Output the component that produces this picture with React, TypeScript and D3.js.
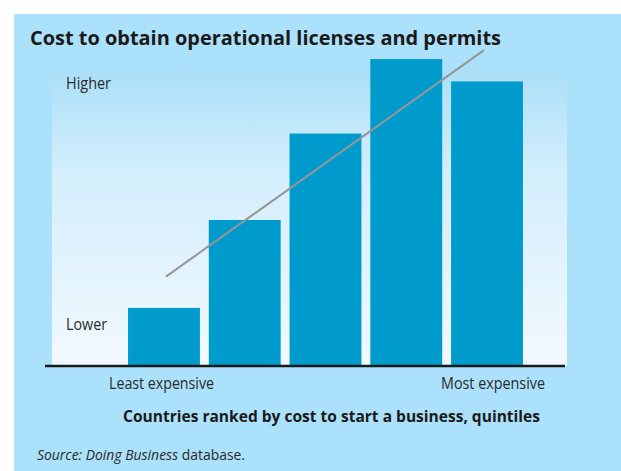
import { useEffect, useRef } from "react";
import * as d3 from "d3";

const quintiles = ["Q1", "Q2", "Q3", "Q4", "Q5"];
const costValues = [19.5, 49, 78, 103, 95.5];
const trendValues = [30, 106];
const yLabels = ["Lower", "Higher"];
const xLabels = ["Least expensive", "Most expensive"];

const W = 621;
const H = 471;

const App: React.FC = () => {
  const svgRef = useRef<SVGSVGElement | null>(null);

  useEffect(() => {
    if (!svgRef.current) return;
    const svg = d3.select(svgRef.current);
    svg.selectAll("*").remove();

    const plot = { left: 52, right: 567, top: 68, bottom: 366 };
    const font = "'Open Sans', 'Noto Sans', sans-serif";

    // outer panel
    svg
      .append("rect")
      .attr("x", 14)
      .attr("y", 14)
      .attr("width", W - 14)
      .attr("height", H - 14)
      .attr("fill", "#abe1fa");

    const defs = svg.append("defs");
    const grad = defs
      .append("linearGradient")
      .attr("id", "bg")
      .attr("x1", 0)
      .attr("y1", 0)
      .attr("x2", 0)
      .attr("y2", 1);
    grad.append("stop").attr("offset", "0%").attr("stop-color", "#aadff8");
    grad.append("stop").attr("offset", "35%").attr("stop-color", "#d3eefc");
    grad.append("stop").attr("offset", "100%").attr("stop-color", "#f2f9fe");

    svg
      .append("rect")
      .attr("x", plot.left)
      .attr("y", plot.top)
      .attr("width", plot.right - plot.left)
      .attr("height", plot.bottom - plot.top)
      .attr("fill", "url(#bg)");

    const x = d3
      .scaleBand()
      .domain(quintiles)
      .range([124, 527])
      .paddingInner(0.11)
      .paddingOuter(0.05);

    const y = d3
      .scaleLinear()
      .domain([0, 100])
      .range([plot.bottom, plot.top]);

    svg
      .selectAll("rect.bar")
      .data(quintiles)
      .enter()
      .append("rect")
      .attr("class", "bar")
      .attr("x", (d) => x(d) || 0)
      .attr("y", (_, i) => y(costValues[i]))
      .attr("width", x.bandwidth())
      .attr("height", (_, i) => plot.bottom - y(costValues[i]))
      .attr("fill", "#009bcd");

    // trend line from first to last quintile
    const first = quintiles[0];
    const last = quintiles[quintiles.length - 1];
    svg
      .append("line")
      .attr("x1", (x(first) || 0) + x.bandwidth() / 2 + 2)
      .attr("y1", y(trendValues[0]))
      .attr("x2", (x(last) || 0) + x.bandwidth() / 2 - 3)
      .attr("y2", y(trendValues[1]))
      .attr("stroke", "#959595")
      .attr("stroke-width", 2);

    // axis line
    svg
      .append("line")
      .attr("x1", plot.left - 7)
      .attr("x2", plot.right - 2)
      .attr("y1", plot.bottom)
      .attr("y2", plot.bottom)
      .attr("stroke", "#1a1a1a")
      .attr("stroke-width", 2.5);

    svg
      .append("text")
      .attr("x", 30)
      .attr("y", 45)
      .attr("font-family", font)
      .attr("font-weight", "bold")
      .attr("font-size", 20)
      .attr("fill", "#1a1a1a")
      .attr("textLength", 471)
      .attr("lengthAdjust", "spacingAndGlyphs")
      .text("Cost to obtain operational licenses and permits");

    const labelStyle = (t: d3.Selection<SVGTextElement, unknown, null, undefined>) =>
      t
        .attr("font-family", font)
        .attr("font-size", 16)
        .attr("fill", "#2a2a2a");

    labelStyle(svg.append("text").attr("x", 66).attr("y", 330))
      .attr("textLength", 41)
      .attr("lengthAdjust", "spacingAndGlyphs")
      .text(yLabels[0]);
    labelStyle(svg.append("text").attr("x", 66).attr("y", 89))
      .attr("textLength", 45)
      .attr("lengthAdjust", "spacingAndGlyphs")
      .text(yLabels[1]);
    labelStyle(svg.append("text").attr("x", 109).attr("y", 389))
      .attr("textLength", 105)
      .attr("lengthAdjust", "spacingAndGlyphs")
      .text(xLabels[0]);
    labelStyle(svg.append("text").attr("x", 441).attr("y", 389))
      .attr("textLength", 104)
      .attr("lengthAdjust", "spacingAndGlyphs")
      .text(xLabels[1]);

    svg
      .append("text")
      .attr("x", 123)
      .attr("y", 422)
      .attr("font-family", font)
      .attr("font-weight", "bold")
      .attr("font-size", 16.5)
      .attr("fill", "#1a1a1a")
      .attr("textLength", 417)
      .attr("lengthAdjust", "spacingAndGlyphs")
      .text("Countries ranked by cost to start a business, quintiles");

    const src = svg
      .append("text")
      .attr("x", 37)
      .attr("y", 460)
      .attr("font-family", font)
      .attr("font-size", 14)
      .attr("fill", "#2a2a2a")
      .attr("textLength", 208)
      .attr("lengthAdjust", "spacingAndGlyphs");
    src.append("tspan").attr("font-style", "italic").text("Source: Doing Business");
    src.append("tspan").text(" database.");
  }, []);

  return (
    <div style={{ position: "fixed", left: 0, top: 0, width: W, height: H }}>
      <svg ref={svgRef} width={W} height={H} style={{ display: "block" }}></svg>
    </div>
  );
};

export default App;
